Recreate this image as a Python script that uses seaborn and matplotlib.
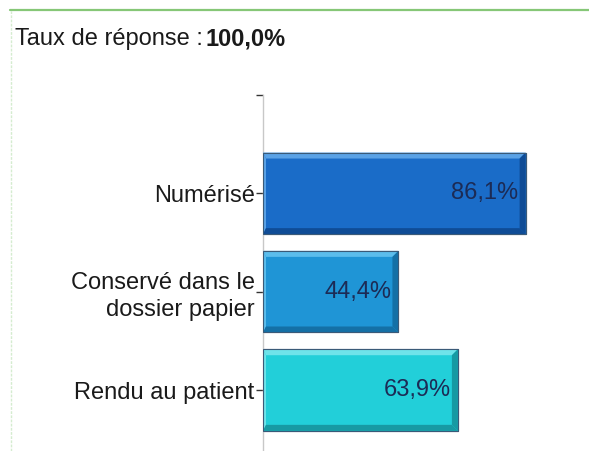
import numpy as np
import pandas as pd
import seaborn as sns
import matplotlib.pyplot as plt
from matplotlib.patches import Polygon
from matplotlib.lines import Line2D

categories = ["Numérisé", "Conservé dans le\ndossier papier", "Rendu au patient"]
values = [86.1, 44.4, 63.9]
rate_label = "Taux de réponse : "
rate_value = "100,0%"

fill_colors = ["#1a6cc8", "#1f95d6", "#22cfd9"]
light_colors = ["#5aa2e6", "#5bbdec", "#6ee3ea"]
dark_colors = ["#0f4c96", "#1470a6", "#179aa3"]

sns.set_style("white")
plt.rcParams['font.family'] = ['Liberation Sans', 'DejaVu Sans']
fs = 17

df = pd.DataFrame({"cat": categories, "val": values})

fig = plt.figure(figsize=(5.89, 4.51), dpi=100)
fig.patch.set_facecolor("white")
ax = fig.add_axes([263 / 589, 0, (568 - 263) / 589, 1 - 95 / 451])
ax.set_facecolor("none")

sns.barplot(data=df, y="cat", x="val", hue="cat", palette=fill_colors, legend=False,
            orient="h", width=0.83, saturation=1, edgecolor="#3a5a78", linewidth=0.8, ax=ax)

ax.set_xlim(0, 100)
ax.set_ylim(2.62, -1)
ax.set_yticks([-1, 0, 1, 2])
ax.set_yticklabels([""] + categories, fontsize=fs, color="#1a1a1a", linespacing=1.3)
ax.set_xticks([])
ax.set(xlabel="", ylabel="")
for s in ["top", "right", "bottom"]:
    ax.spines[s].set_visible(False)
ax.spines["left"].set_color("#c8c8c8")
ax.spines["left"].set_linewidth(1)
ax.tick_params(axis="y", left=True, length=5, width=1, color="#333333", pad=1)

# bevel effect on each bar
ax_w_px = 568 - 263
ax_h_px = 451 - 95
dx = 100 / ax_w_px
dy = 3.62 / ax_h_px
bev = 6
for i, p in enumerate(ax.patches):
    x0, y0, w, h = p.get_x(), p.get_y(), p.get_width(), p.get_height()
    x1, y1 = x0 + w, y0 + h
    bx, by = bev * dx, bev * dy
    top = Polygon([(x0, y0), (x1, y0), (x1 - bx, y0 + by), (x0 + bx * 0.5, y0 + by)],
                  closed=True, facecolor=light_colors[i], edgecolor="none", zorder=3)
    left = Polygon([(x0, y0), (x0 + bx * 0.5, y0 + by), (x0 + bx * 0.5, y1 - by), (x0, y1)],
                   closed=True, facecolor=light_colors[i], edgecolor="none", zorder=3)
    bottom = Polygon([(x0, y1), (x0 + bx * 0.5, y1 - by), (x1 - bx, y1 - by), (x1, y1)],
                     closed=True, facecolor=dark_colors[i], edgecolor="none", zorder=3)
    right = Polygon([(x1, y0), (x1 - bx, y0 + by), (x1 - bx, y1 - by), (x1, y1)],
                    closed=True, facecolor=dark_colors[i], edgecolor="none", zorder=3)
    for poly in (top, left, bottom, right):
        ax.add_patch(poly)
    ax.add_patch(plt.Rectangle((x0, y0), w, h, fill=False, edgecolor="#3a5a78",
                               linewidth=0.8, zorder=4))
    lbl = f"{values[i]:.1f}".replace(".", ",") + "%"
    ax.annotate(lbl, xy=(x1, y0 + h / 2), xytext=(-7, 0), textcoords="offset pixels",
                ha="right", va="center", fontsize=fs, color="#1c2b55", zorder=5)

# frame lines (green)
fig.add_artist(Line2D([10 / 589, 1], [1 - 10 / 451] * 2, color="#86c777", lw=1.6))
fig.add_artist(Line2D([11 / 589] * 2, [0, 1 - 10 / 451], color="#d5ecd0", lw=1,
                      linestyle=(0, (2, 1))))

# title
t1 = fig.text(15 / 589, 1 - 39 / 451, rate_label, fontsize=fs, color="#1a1a1a",
              va="center", ha="left")
r = fig.canvas.get_renderer()
bb = t1.get_window_extent(renderer=r)
fig.text(bb.x1 / fig.bbox.width - 4 / 589, 1 - 39 / 451, rate_value, fontsize=fs,
         fontweight="bold", color="#1a1a1a", va="center", ha="left")

fig.savefig("out.png", dpi=100)
